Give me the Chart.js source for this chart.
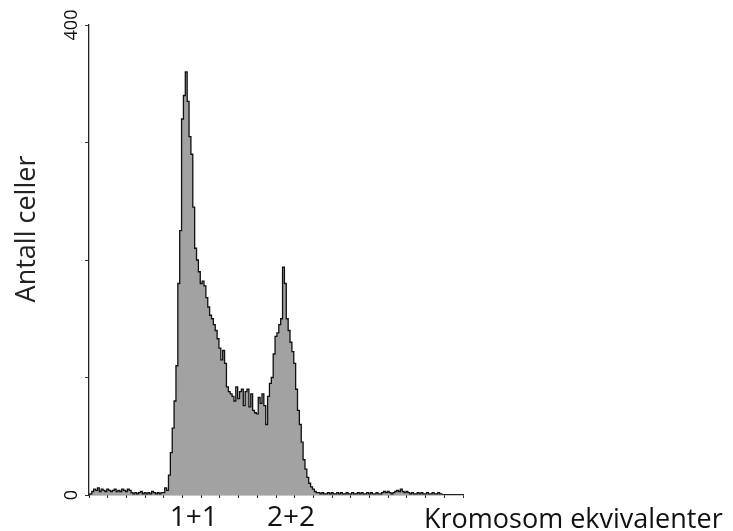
<!DOCTYPE html>
<html>
<head>
<meta charset="utf-8">
<script src="https://cdn.jsdelivr.net/npm/chart.js@4"></script>
<style>
html,body{margin:0;padding:0;background:#fff;}
#wrap{position:relative;width:733px;height:531px;}
</style>
</head>
<body>
<div id="wrap"><canvas id="c" width="733" height="531"></canvas></div>
<script>
// Histogram counts per channel (channel index = bin number, 0..199)
const counts = [
  0,1,3,5,4,6,3,5,4,3, 5,4,3,4,5,3,4,3,5,4,
  3,5,4,2,1,2,1,2,3,1, 2,1,2,1,3,2,1,2,1,2,
  2,6,4,17,36,57,80,110,180,225,
  320,340,360,335,305,290,245,210,200,190,
  180,182,178,168,160,153,150,145,140,133,
  125,115,123,112,92,88,86,84,80,92,
  82,88,90,76,88,90,75,86,72,70,
  69,83,78,86,76,60,84,95,100,120,
  135,138,145,150,194,180,150,140,130,122,
  112,90,72,60,45,30,22,15,10,7,
  5,3,2,2,1,2,1,1,2,1, 2,1,1,2,1,2,1,1,2,1,
  1,2,1,1,2,1,2,1,1,2, 1,2,1,1,2,1,1,2,3,2,
  3,2,1,2,3,4,3,5,3,2, 3,2,1,2,1,1,2,1,2,1,
  1,2,1,1,2,1,1,2,1,1
];
const yTickLabels = ["0", "400"];
const yTickValues = [0, 400];
const peakLabels = ["1+1", "2+2"];
const peakLabelPositions = [56, 108];
const xTitle = "Kromosom ekvivalenter";
const yTitle = "Antall celler";

const points = counts.map((v, i) => ({x: i, y: v}));

const textPlugin = {
  id: 'texts',
  afterDraw(chart) {
    const ctx = chart.ctx;
    const xs = chart.scales.x, ys = chart.scales.y;
    ctx.save();
    ctx.fillStyle = '#111';
    // y tick labels, rotated
    ctx.font = '18px "Open Sans"';
    ctx.textAlign = 'center';
    ctx.textBaseline = 'middle';
    yTickValues.forEach((v, i) => {
      const py = ys.getPixelForValue(v);
      ctx.save();
      ctx.translate(xs.left - 17, py);
      ctx.rotate(-Math.PI / 2);
      ctx.fillText(yTickLabels[i], 0, 0);
      ctx.restore();
    });
    // peak labels under x axis
    ctx.font = '28px "Open Sans"';
    ctx.textBaseline = 'alphabetic';
    peakLabels.forEach((t, i) => {
      ctx.fillText(t, xs.getPixelForValue(peakLabelPositions[i]), ys.bottom + 31);
    });
    // x title
    ctx.textAlign = 'left';
    ctx.font = '27px "Open Sans"';
    ctx.fillText(xTitle, 424, ys.bottom + 33);
    // y title
    ctx.save();
    ctx.translate(27, (ys.top + ys.bottom) / 2 - 31);
    ctx.rotate(-Math.PI / 2);
    ctx.textAlign = 'center';
    ctx.textBaseline = 'middle';
    ctx.font = '27px "Open Sans"';
    ctx.fillStyle = '#222';
    ctx.fillText(yTitle, 0, 0);
    ctx.restore();
    ctx.restore();
  }
};

new Chart(document.getElementById('c'), {
  type: 'line',
  data: {
    datasets: [{
      data: points,
      stepped: 'middle',
      fill: 'origin',
      backgroundColor: '#a2a2a2',
      borderColor: '#111',
      borderWidth: 1.3,
      pointRadius: 0
    }]
  },
  options: {
    responsive: false,
    animation: false,
    layout: {padding: {left: 0, top: 25, right: 270, bottom: 0}},
    plugins: {legend: {display: false}, tooltip: {enabled: false}},
    scales: {
      x: {
        type: 'linear', min: 0, max: 200,
        ticks: {display: false, stepSize: 10},
        grid: {display: true, drawOnChartArea: false, drawTicks: true, tickLength: 3, color: '#333', lineWidth: 1},
        border: {display: true, color: '#222', width: 1.3},
        afterFit(s) { s.height = 36; }
      },
      y: {
        min: 0, max: 400,
        ticks: {display: false, stepSize: 100},
        grid: {display: true, drawOnChartArea: false, drawTicks: true, tickLength: 4, color: '#333', lineWidth: 1},
        border: {display: true, color: '#222', width: 1.3},
        afterFit(s) { s.width = 89; }
      }
    }
  },
  plugins: [textPlugin]
});
</script>
</body>
</html>
